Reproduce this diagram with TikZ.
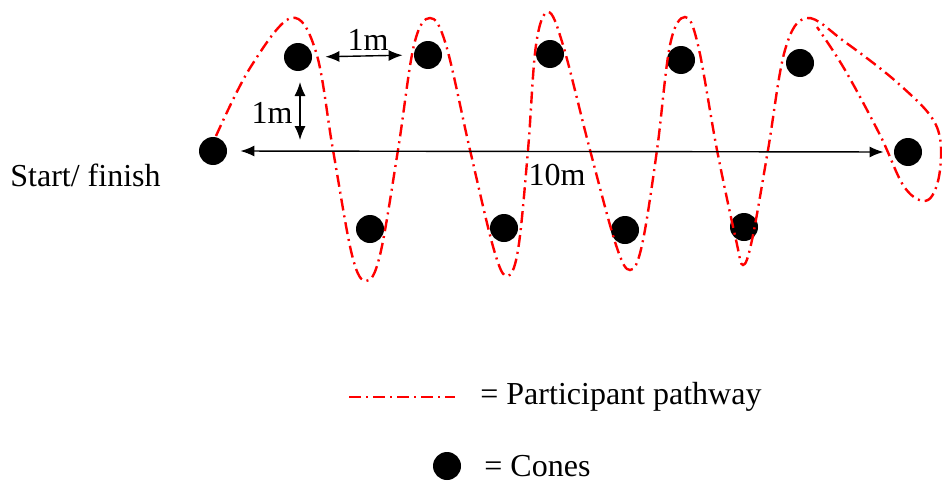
\documentclass[tikz,border=0pt]{standalone}
\usepackage{fontspec}
\setmainfont{Liberation Serif}
\usetikzlibrary{arrows.meta}
\tikzset{
  cone/.style={circle, fill=black, inner sep=0pt, minimum size=14pt},
  pathway/.style={red, line width=1.2pt, dash pattern=on 6pt off 2.5pt on 1pt off 2.5pt},
  dist/.style={{Latex[length=7pt,width=5.5pt]}-{Latex[length=7pt,width=5.5pt]}, line width=0.7pt},
  lbl/.style={font=\fontsize{16}{19}\selectfont, inner sep=0pt}
}
\begin{document}
\begin{tikzpicture}[x=0.5pt,y=-0.5pt]
\useasboundingbox (0,0) rectangle (942,482);
\node[cone] (start) at (213,151) {};
\node[cone] (t1) at (298,57) {};
\node[cone] (t2) at (428,55) {};
\node[cone] (t3) at (550,54) {};
\node[cone] (t4) at (681,60) {};
\node[cone] (t5) at (800,63) {};
\node[cone] (b1) at (370,229) {};
\node[cone] (b2) at (504,228) {};
\node[cone] (b3) at (625,230) {};
\node[cone] (b4) at (744,227) {};
\node[cone] (finish) at (908,152) {};
\node[lbl, anchor=west] (startlbl) at (10,175) {Start/ finish};
% participant pathway
\draw[pathway] plot[smooth, tension=0.6] coordinates {
  (216,136) (250,68) (291,18) (316,52)
  (333,150) (352,255) (366,281) (380,255)
  (398,150) (414,45) (430,18) (446,45) (470,150) (494,250) (507,276) (518,250)
  (528,150) (536,45) (548,12) (563,45) (590,150) (616,245) (630,270) (642,245)
  (657,150) (670,45) (685,17) (698,45) (717,150) (736,240) (743,265) (752,240)
  (768,150) (785,50) (807,18) (845,42) (900,85) (936,125) (940,170) (928,200)
  (905,188) (880,135) (845,70) (817,27)};
% distances
\draw[dist, shorten <=6.5pt, shorten >=5.5pt] (t1.east) -- (t2.west);
\node[lbl] (onemh) at (368,40) {1m};
\coordinate (vtop) at (300,82);
\coordinate (vbot) at (300,140);
\draw[dist] (vtop) -- (vbot);
\node[lbl] (onemv) at (272,113) {1m};
\draw[dist, shorten <=6.5pt, shorten >=5pt] (start.east) -- (finish.west);
\node[lbl] (tenm) at (557,175) {10m};
% legend
\coordinate (lega) at (349,397);
\coordinate (legb) at (455,397);
\draw[pathway] (lega) -- (legb);
\node[lbl, anchor=west] (legpath) at (480,397) {= Participant pathway};
\node[cone] (legcone) at (447,466) {};
\node[lbl, anchor=west] (legcones) at (484,466) {= Cones};
\end{tikzpicture}
\end{document}
